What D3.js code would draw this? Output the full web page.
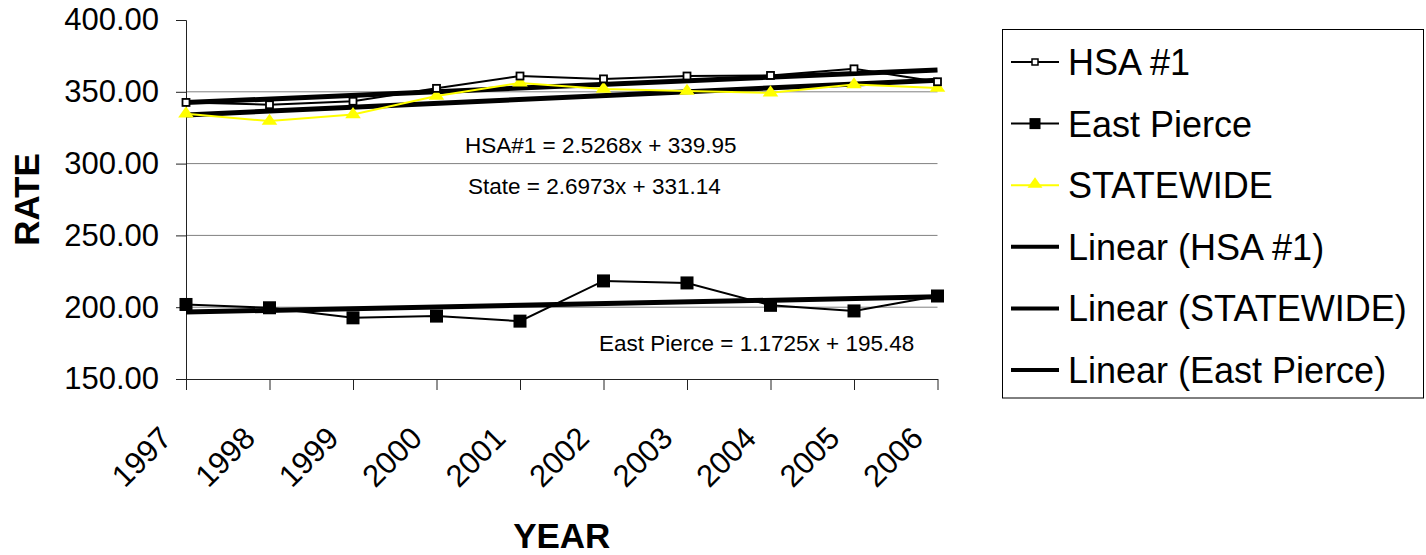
<!DOCTYPE html>
<html>
<head>
<meta charset="utf-8">
<script src="https://cdn.jsdelivr.net/npm/d3@7"></script>
<style>
    body { margin: 0; background: #fff; }
    text { font-family: "Liberation Sans", Arial, sans-serif; fill: #000; }
</style>
</head>
<body>
<svg></svg>
<script>
// Chart data
let years = ['1997', '1998', '1999', '2000', '2001', '2002', '2003', '2004', '2005', '2006'];
let hsaValues = [342.6, 341.0, 343.4, 352.4, 361.0, 359.0, 361.0, 361.4, 366.0, 357.0];
let eastPierceValues = [201.9, 199.6, 192.6, 193.8, 190.3, 218.3, 216.9, 201.3, 197.4, 207.8];
let statewideValues = [334.7, 329.6, 334.2, 347.0, 356.2, 352.0, 350.5, 349.3, 355.0, 352.7];
let yTicks = [150, 200, 250, 300, 350, 400];

// Trendline coefficients (y = slope * x + intercept, x = 1..10)
let trendNames = ['HSA#1', 'State', 'East Pierce'];
let trendSlopes = [2.5268, 2.6973, 1.1725];
let trendIntercepts = [339.95, 331.14, 195.48];

let legendLabels = ['HSA #1', 'East Pierce', 'STATEWIDE', 'Linear (HSA #1)', 'Linear (STATEWIDE)', 'Linear (East Pierce)'];

// SVG Dimensions
let width = 1426, height = 555;
let plotLeft = 186, plotRight = 937.5, plotTop = 20, plotBottom = 379;

let svg = d3.select('svg')
    .attr('width', width)
    .attr('height', height);

svg.append('rect').attr('width', width).attr('height', height).attr('fill', '#fff');

let x = d3.scalePoint().domain(years).range([plotLeft, plotRight]);
let y = d3.scaleLinear().domain([150, 400]).range([plotBottom, plotTop]);

// Gridlines
svg.append('g')
    .selectAll('line')
    .data(yTicks.filter(t => t > 150 && t < 400))
    .enter()
    .append('line')
    .attr('x1', plotLeft).attr('x2', plotRight)
    .attr('y1', d => y(d)).attr('y2', d => y(d))
    .attr('stroke', '#808080')
    .attr('stroke-width', 1);

// Y axis
let yAxis = svg.append('g')
    .attr('transform', `translate(${plotLeft},0)`)
    .call(d3.axisLeft(y).tickValues(yTicks).tickFormat(d3.format('.2f')).tickSize(10).tickPadding(17));
yAxis.select('.domain').attr('stroke', '#222');
yAxis.selectAll('.tick line').attr('stroke', '#222');
yAxis.selectAll('text').style('font-size', '31px').attr('fill', '#000');

// X axis
let xAxis = svg.append('g')
    .attr('transform', `translate(0,${plotBottom})`)
    .call(d3.axisBottom(x).tickSize(11).tickSizeOuter(0));
xAxis.select('.domain').attr('stroke', '#222');
xAxis.selectAll('.tick line').attr('stroke', '#222');
xAxis.selectAll('text')
    .style('font-size', '31px')
    .attr('fill', '#000')
    .attr('x', 0).attr('y', 0).attr('dy', 0)
    .attr('text-anchor', 'end')
    .attr('transform', 'translate(-13,61) rotate(-45)');

// Axis titles
svg.append('text')
    .attr('x', (plotLeft + plotRight) / 2)
    .attr('y', 548)
    .attr('text-anchor', 'middle')
    .style('font-size', '35px')
    .style('font-weight', 'bold')
    .text('YEAR');

svg.append('text')
    .attr('transform', `translate(39,${(plotTop + plotBottom) / 2}) rotate(-90)`)
    .attr('text-anchor', 'middle')
    .style('font-size', '35px')
    .style('font-weight', 'bold')
    .text('RATE');

// Trendlines
let trendG = svg.append('g');
trendSlopes.forEach((slope, i) => {
    let pts = years.map((yr, j) => [x(yr), y(slope * (j + 1) + trendIntercepts[i])]);
    trendG.append('path')
        .attr('d', d3.line()([pts[0], pts[pts.length - 1]]))
        .attr('stroke', '#000')
        .attr('stroke-width', 5)
        .attr('fill', 'none');
});

// Series lines
function drawSeries(values, color) {
    svg.append('path')
        .datum(values)
        .attr('d', d3.line().x((d, i) => x(years[i])).y(d => y(d)))
        .attr('stroke', color)
        .attr('stroke-width', 2)
        .attr('fill', 'none');
}
drawSeries(statewideValues, '#FFFF00');
drawSeries(eastPierceValues, '#000');
drawSeries(hsaValues, '#000');

// Markers
let triangle = d3.symbol().type(d3.symbolTriangle).size(80);

svg.append('g')
    .selectAll('path')
    .data(statewideValues)
    .enter()
    .append('path')
    .attr('d', triangle)
    .attr('transform', (d, i) => `translate(${x(years[i])},${y(d)}) scale(1.15,0.95)`)
    .attr('fill', '#FFFF00');

svg.append('g')
    .selectAll('rect')
    .data(eastPierceValues)
    .enter()
    .append('rect')
    .attr('x', (d, i) => x(years[i]) - 6.5)
    .attr('y', d => y(d) - 6.5)
    .attr('width', 13).attr('height', 13)
    .attr('fill', '#000');

svg.append('g')
    .selectAll('rect')
    .data(hsaValues)
    .enter()
    .append('rect')
    .attr('x', (d, i) => x(years[i]) - 3.5)
    .attr('y', d => y(d) - 3.5)
    .attr('width', 7).attr('height', 7)
    .attr('fill', '#fff')
    .attr('stroke', '#000')
    .attr('stroke-width', 1.8);

// Trendline equations
let eqPos = [[465, 153], [468, 194], [599, 351]];
trendNames.forEach((name, i) => {
    svg.append('text')
        .attr('x', eqPos[i][0])
        .attr('y', eqPos[i][1])
        .style('font-size', '22.5px')
        .text(name + ' = ' + trendSlopes[i] + 'x + ' + trendIntercepts[i]);
});

// Legend
let legend = svg.append('g');
legend.append('rect')
    .attr('x', 1002.5).attr('y', 29.5)
    .attr('width', 421).attr('height', 368.5)
    .attr('fill', '#fff')
    .attr('stroke', '#000')
    .attr('stroke-width', 1);

legendLabels.forEach((label, i) => {
    let cy = 62 + i * 61.6;
    let isTrend = i >= 3;
    let color = i === 2 ? '#FFFF00' : '#000';
    legend.append('line')
        .attr('x1', 1011).attr('x2', 1059)
        .attr('y1', cy).attr('y2', cy)
        .attr('stroke', color)
        .attr('stroke-width', isTrend ? 4 : 2);
    if (i === 0) {
        legend.append('rect')
            .attr('x', 1032).attr('y', cy - 3)
            .attr('width', 6).attr('height', 6)
            .attr('fill', '#fff').attr('stroke', '#000').attr('stroke-width', 1.5);
    } else if (i === 1) {
        legend.append('rect')
            .attr('x', 1029.5).attr('y', cy - 5.5)
            .attr('width', 11).attr('height', 11)
            .attr('fill', '#000');
    } else if (i === 2) {
        legend.append('path')
            .attr('d', triangle)
            .attr('transform', `translate(1035,${cy - 1}) scale(1.1,0.9)`)
            .attr('fill', '#FFFF00');
    }
    legend.append('text')
        .attr('x', 1068)
        .attr('y', cy)
        .attr('dy', '0.36em')
        .style('font-size', '36px')
        .text(label);
});
</script>
</body>
</html>
